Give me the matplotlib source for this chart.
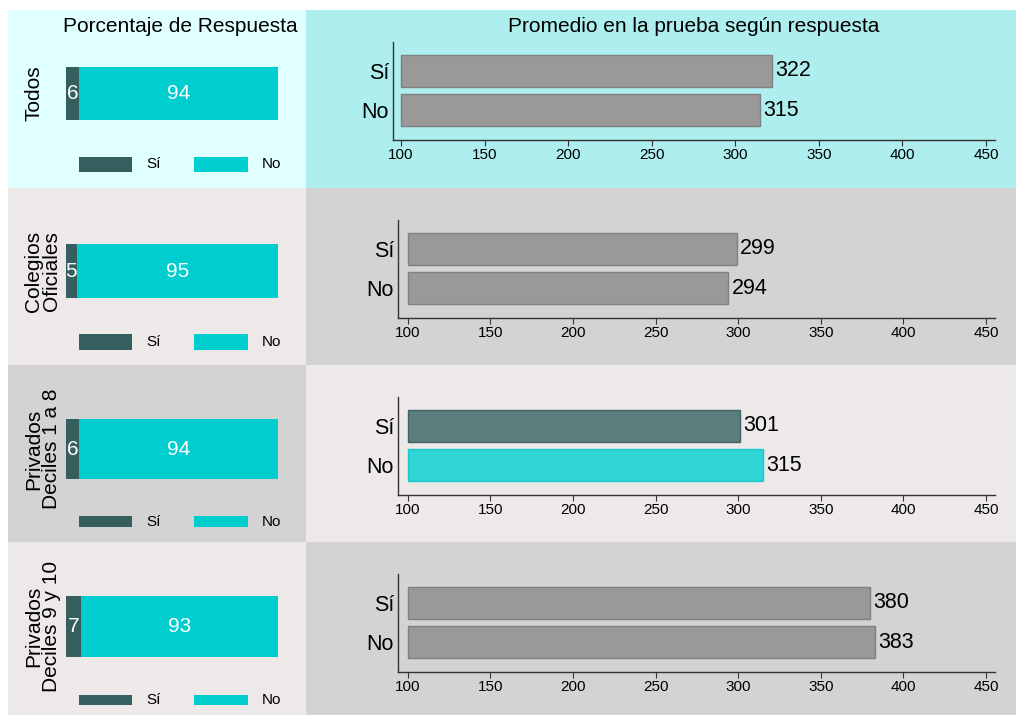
import matplotlib
matplotlib.use('Agg')
import matplotlib.pyplot as plt
from matplotlib.patches import Rectangle

plt.rcParams['font.family'] = ['Liberation Sans', 'DejaVu Sans']

# data
groups = ["Todos", "Colegios\nOficiales", "Privados\nDeciles 1 a 8", "Privados\nDeciles 9 y 10"]
pct_si = [6, 5, 6, 7]
pct_no = [94, 95, 94, 93]
score_si = [322, 299, 301, 380]
score_no = [315, 294, 315, 383]
answers = ["Sí", "No"]
xticks = [100, 150, 200, 250, 300, 350, 400, 450]

W, H = 1016, 715
fig = plt.figure(figsize=(W / 100, H / 100), dpi=100)


def box(x0, y0, x1, y1):
    # pixel box (top-left origin) -> figure fraction rect
    return [x0 / W, 1 - y1 / H, (x1 - x0) / W, (y1 - y0) / H]


def rect(x0, y0, x1, y1, color, **kw):
    fig.add_artist(Rectangle((x0 / W, 1 - y1 / H), (x1 - x0) / W, (y1 - y0) / H,
                             transform=fig.transFigure, facecolor=color,
                             edgecolor=kw.pop('edgecolor', 'none'), zorder=kw.pop('zorder', 0), **kw))


def ftext(x, y, s, **kw):
    fig.text(x / W, 1 - y / H, s, **kw)


C_SI = '#355e5e'
C_NO = '#00cdcd'
LIGHT = '#ece9e8'
MID = '#d3d3d3'
left_bg = ['#e0ffff', LIGHT, MID, LIGHT]
right_bg = ['#aeeeee', MID, LIGHT, MID]
row_y = [(10, 188), (188, 365), (365, 542), (542, 715)]
pbar_y = [(67, 120), (244, 298), (419, 479), (596, 657)]
leg_y = [(157, 172), (334, 350), (516, 527), (695, 705)]

for i in range(4):
    top, bot = row_y[i]
    rect(8, top, 306, bot, left_bg[i])
    rect(306, top, W, bot, right_bg[i])

    # percentage bar
    y0, y1 = pbar_y[i]
    ax = fig.add_axes(box(66, y0, 278, y1))
    ax.barh(0, pct_si[i], height=1, color=C_SI)
    ax.barh(0, pct_no[i], left=pct_si[i], height=1, color=C_NO)
    ax.text(pct_si[i] / 2, 0, str(pct_si[i]), color='white', ha='center', va='center', fontsize=15)
    ax.text(pct_si[i] + pct_no[i] / 2, 0, str(pct_no[i]), color='white', ha='center', va='center', fontsize=15)
    ax.set_xlim(0, 100)
    ax.set_ylim(-0.5, 0.5)
    ax.axis('off')

    ftext(24, (y0 + y1) / 2, groups[i], rotation=90, ha='left', va='center',
          fontsize=15, linespacing=0.92, multialignment='center')

    # legend keys
    l0, l1 = leg_y[i]
    rect(79, l0, 132, l1, C_SI, zorder=1)
    rect(194, l0, 248, l1, C_NO, zorder=1)
    ftext(146, (l0 + l1) / 2, answers[0], ha='left', va='center', fontsize=11)
    ftext(262, (l0 + l1) / 2, answers[1], ha='left', va='center', fontsize=11)

    # average score bars
    ax_x0 = 393 if i == 0 else 398
    tick100 = 401 if i == 0 else 407.7
    ax2 = fig.add_axes(box(ax_x0, top + 32, 995, top + 130))
    ax2.patch.set_alpha(0)
    if i == 2:
        cols = ['#5a7e7e', '#30d5d5']
        edges = ['#3f6464', '#1ec8c8']
    else:
        cols = ['#999999', '#999999']
        edges = ['#808080', '#808080']
    vals = [score_si[i], score_no[i]]
    ypos = [1, 0]
    ax2.barh(ypos, [v - 100 for v in vals], left=100, height=0.81, color=cols,
             edgecolor=edges, linewidth=1)
    for yp, v in zip(ypos, vals):
        ax2.text(v + 2, yp, str(v), ha='left', va='center', fontsize=15.5)
    scale = (986 - tick100) / 350
    ax2.set_xlim(100 - (tick100 - ax_x0) / scale, 100 + (995 - tick100) / scale)
    ax2.set_ylim(-0.75, 1.73)
    ax2.set_yticks(ypos)
    ax2.set_yticklabels(answers, fontsize=15.5)
    ax2.tick_params(axis='y', length=0, pad=3)
    ax2.set_xticks(xticks)
    ax2.tick_params(axis='x', labelsize=11, length=4, width=0.8, pad=2, color='#333333')
    for s in ['top', 'right']:
        ax2.spines[s].set_visible(False)
    for s in ['left', 'bottom']:
        ax2.spines[s].set_color('#333333')
        ax2.spines[s].set_linewidth(1)

ftext(180, 26, "Porcentaje de Respuesta", ha='center', va='center', fontsize=15)
ftext(694, 26, "Promedio en la prueba según respuesta", ha='center', va='center', fontsize=15)

fig.savefig('out.png', dpi=100)
